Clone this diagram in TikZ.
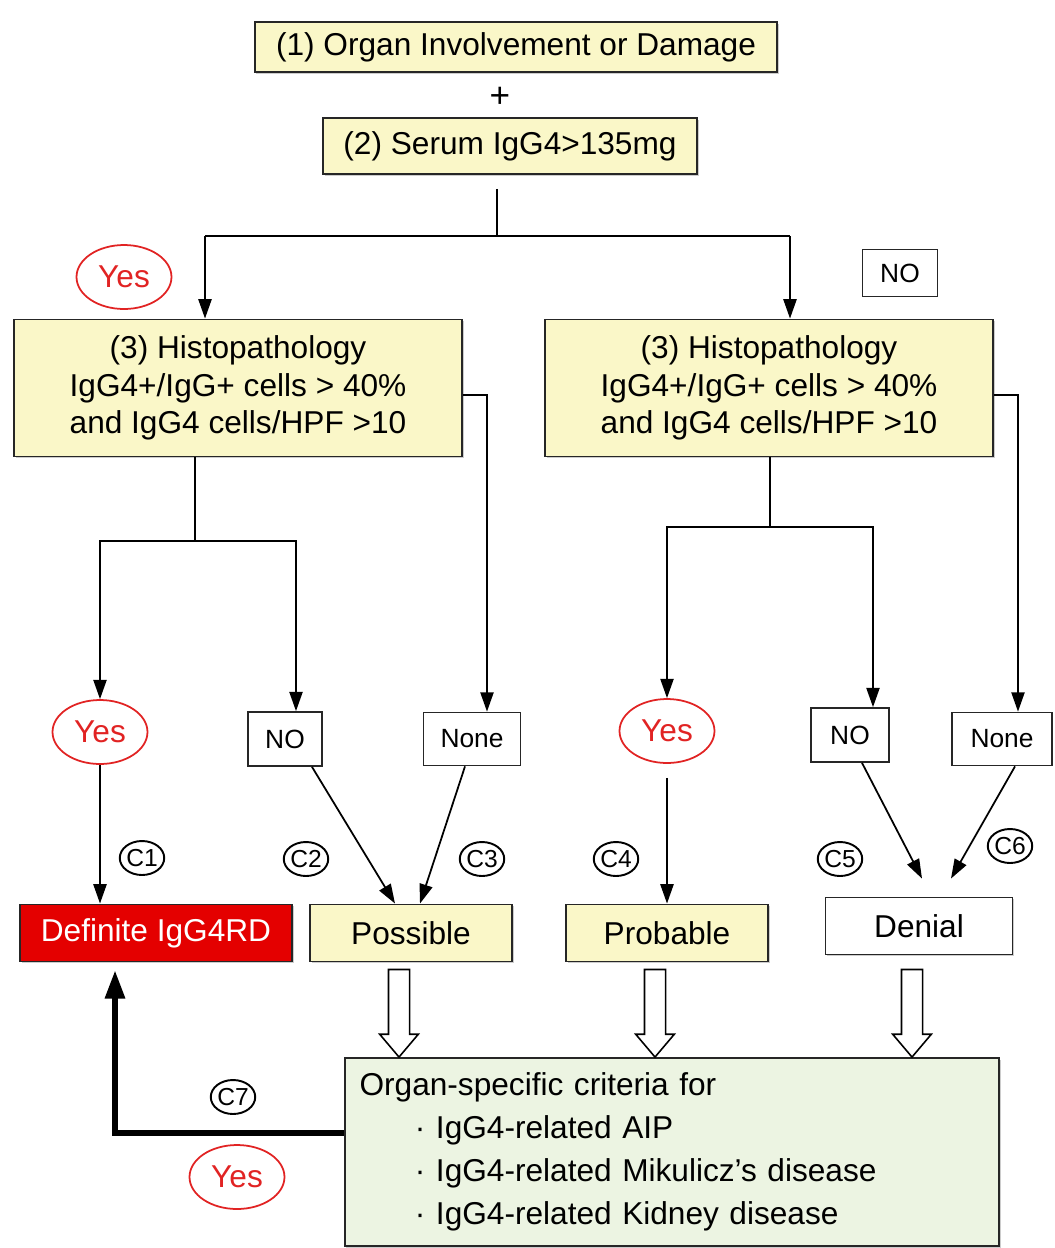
\documentclass[tikz,border=0pt]{standalone}
\usepackage{fontspec}
\setmainfont{Liberation Sans}
\usepackage{tikz}
\usetikzlibrary{arrows.meta,calc,shadows,shapes.geometric}
\definecolor{boxyellow}{RGB}{250,247,200}
\definecolor{boxgreen}{RGB}{236,244,226}
\definecolor{defred}{RGB}{228,0,0}
\definecolor{yesred}{RGB}{225,35,35}

% hollow block arrow from #1 straight down to the height of #2
\newcommand{\hollowarrow}[2]{%
  \draw[fill=white, line width=0.9pt] let \p1=(#1), \p2=(#2) in
    (\x1-6pt,\y1) -- (\x1+6pt,\y1) -- (\x1+6pt,\y2+13pt) -- (\x1+11pt,\y2+13pt)
    -- (\x1,\y2) -- (\x1-11pt,\y2+13pt) -- (\x1-6pt,\y2+13pt) -- cycle;}

\begin{document}
\begin{tikzpicture}[x=0.02cm, y=-0.02cm,
    critbox/.style={draw=black!85, line width=1.1pt, fill=boxyellow, align=center,
      font=\fontsize{18}{21.5}\selectfont, inner sep=2pt,
      drop shadow={shadow xshift=1pt, shadow yshift=-1pt, fill=black!40}},
    answerbox/.style={draw=black!85, line width=1pt, fill=white,
      font=\fontsize{15}{18}\selectfont, inner sep=2pt},
    yesmark/.style={ellipse, draw=yesred, line width=1pt, text=yesred,
      font=\fontsize{18}{21}\selectfont, minimum width=1.9cm, minimum height=1.28cm, inner sep=0pt},
    casemark/.style={ellipse, draw=black, line width=1.1pt, font=\fontsize{14}{16}\selectfont,
      minimum width=0.86cm, minimum height=0.68cm, inner sep=0pt},
    arr/.style={line width=1pt, -{Triangle[length=11pt,width=7.5pt]}},
    wire/.style={line width=1pt}]
  \useasboundingbox (0,0) rectangle (1055,1248);

  % Criteria at the top
  \node[critbox, minimum width=10.46cm, minimum height=1cm] (organ) at (516,47) {(1) Organ Involvement or Damage};
  \node[font=\fontsize{20}{20}\selectfont] (plus) at (500,97) {+};
  \node[critbox, minimum width=7.48cm, minimum height=1.12cm] (serum) at (510,146) {(2) Serum IgG4>135mg};

  % Histopathology boxes
  \node[critbox, minimum width=8.96cm, minimum height=2.74cm] (histoL) at (238,388)
    {(3) Histopathology\\ IgG4+/IgG+ cells > 40\%\\ and IgG4 cells/HPF >10};
  \node[critbox, minimum width=8.96cm, minimum height=2.74cm] (histoR) at (769,388)
    {(3) Histopathology\\ IgG4+/IgG+ cells > 40\%\\ and IgG4 cells/HPF >10};
  \node[yesmark] (yes0) at (124,277) {Yes};
  \node[answerbox, minimum width=1.5cm, minimum height=0.94cm] (no0) at (900,273) {NO};

  % Answers of the histopathology
  \node[yesmark] (yes1) at (100,732) {Yes};
  \node[answerbox, minimum width=1.48cm, minimum height=1.08cm] (no1) at (285,739) {NO};
  \node[answerbox, minimum width=1.94cm, minimum height=1.06cm] (none1) at (472,739) {None};
  \node[yesmark] (yes2) at (667,731) {Yes};
  \node[answerbox, minimum width=1.56cm, minimum height=1.08cm] (no2) at (850,735) {NO};
  \node[answerbox, minimum width=2cm, minimum height=1.06cm] (none2) at (1002,739) {None};

  % Outcomes
  \node[critbox, fill=defred, text=white, minimum width=5.44cm, minimum height=1.14cm] (definite) at (156,933) {Definite IgG4RD};
  \node[critbox, minimum width=4.04cm, minimum height=1.14cm] (possible) at (411,933) {Possible};
  \node[critbox, minimum width=4.04cm, minimum height=1.14cm] (probable) at (667,933) {Probable};
  \node[critbox, fill=white, minimum width=3.74cm, minimum height=1.14cm] (denial) at (919,926) {Denial};
  \node[critbox, fill=boxgreen, minimum width=13.1cm, minimum height=3.76cm, text width=12.5cm,
    align=left, font=\fontsize{18}{24.4}\selectfont] (specific) at (672,1152)
    {Organ-specific criteria for\\
     \hspace*{1.75em}· IgG4-related AIP\\
     \hspace*{1.75em}· IgG4-related Mikulicz's disease\\
     \hspace*{1.75em}· IgG4-related Kidney disease};

  % Case labels
  \node[casemark] (c1) at (142,858) {C1};
  \node[casemark] (c2) at (306,859) {C2};
  \node[casemark] (c3) at (482,859) {C3};
  \node[casemark] (c4) at (616,859) {C4};
  \node[casemark] (c5) at (840,859) {C5};
  \node[casemark] (c6) at (1010,846) {C6};
  \node[casemark] (c7) at (233,1097) {C7};
  \node[yesmark] (yes3) at (237,1177) {Yes};

  % Split after the serum test
  \coordinate (split) at (497,236);
  \coordinate (splitL) at (205,236);
  \coordinate (splitR) at (790,236);
  \draw[wire, shorten <=0.28cm] (split |- serum.south) -- (split);
  \draw[wire] (splitL) -- (splitR);
  \draw[arr] (splitL) -- (splitL |- histoL.north);
  \draw[arr] (splitR) -- (splitR |- histoR.north);

  % Left branch
  \coordinate (forkL) at (195,541);
  \draw[wire] (forkL |- histoL.south) -- (forkL);
  \draw[arr] (forkL) -| (yes1);
  \draw[arr] (forkL) -| ([xshift=0.22cm]no1.north);
  \draw[arr] ([yshift=-0.14cm]histoL.east) -| ([xshift=0.3cm]none1.north);

  % Right branch
  \coordinate (forkR) at (770,527);
  \draw[wire] (forkR |- histoR.south) -- (forkR);
  \draw[arr] (forkR) -| (yes2);
  \draw[arr] (forkR) -| ([xshift=0.46cm]no2.north);
  \draw[arr] ([yshift=-0.14cm]histoR.east) -| ([xshift=0.32cm]none2.north);

  % Arrows to the outcomes
  \draw[arr] (yes1) -- (yes1 |- definite.north);
  \draw[arr] ([xshift=0.54cm]no1.south) -- ([xshift=-0.32cm]possible.north);
  \draw[arr] ([xshift=-0.14cm]none1.south) -- ([xshift=0.18cm]possible.north);
  \draw[arr, shorten <=0.28cm] (yes2) -- (yes2 |- probable.north);
  \draw[arr] ([xshift=0.24cm]no2.south) -- ([xshift=0.06cm,yshift=0.36cm]denial.north);
  \draw[arr] ([xshift=0.26cm]none2.south) -- ([xshift=0.64cm,yshift=0.36cm]denial.north);

  % Block arrows into the organ-specific criteria
  \hollowarrow{[xshift=-0.24cm,yshift=-0.14cm]possible.south}{specific.north}
  \hollowarrow{[xshift=-0.24cm,yshift=-0.14cm]probable.south}{specific.north}
  \hollowarrow{[xshift=-0.14cm,yshift=-0.28cm]denial.south}{specific.north}

  % Back to definite
  \draw[line width=3pt, -{Triangle[length=16pt,width=11pt]}] ([yshift=0.38cm]specific.west)
    -| ([xshift=-0.82cm,yshift=-0.16cm]definite.south);
\end{tikzpicture}
\end{document}
